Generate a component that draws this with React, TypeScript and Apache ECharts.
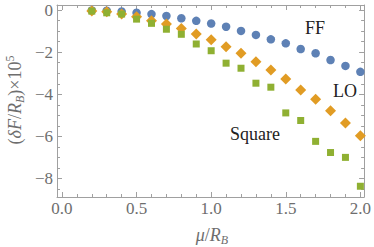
import React, { useEffect, useRef } from "react";
import * as echarts from "echarts";

const xValues = [0.2, 0.3, 0.4, 0.5, 0.6, 0.7, 0.8, 0.9, 1.0, 1.1, 1.2, 1.3, 1.4, 1.5, 1.6, 1.7, 1.8, 1.9, 2.0];
const ffValues = [-0.02, -0.03, -0.07, -0.13, -0.19, -0.28, -0.39, -0.51, -0.64, -0.79, -0.99, -1.18, -1.39, -1.58, -1.85, -2.05, -2.37, -2.65, -2.93];
const loValues = [-0.04, -0.08, -0.19, -0.32, -0.51, -0.66, -0.87, -1.14, -1.41, -1.74, -2.05, -2.45, -2.84, -3.27, -3.79, -4.23, -4.78, -5.36, -5.96];
const squareValues = [-0.05, -0.13, -0.19, -0.43, -0.63, -0.91, -1.15, -1.61, -1.93, -2.52, -2.76, -3.47, -3.66, -4.88, -5.24, -6.23, -6.76, -6.99, -8.36];

const xMajorTicks = [0, 0.5, 1.0, 1.5, 2.0];
const xMinorTicks = [0.1, 0.2, 0.3, 0.4, 0.6, 0.7, 0.8, 0.9, 1.1, 1.2, 1.3, 1.4, 1.6, 1.7, 1.8, 1.9];
const yMajorTicks = [0, -2, -4, -6, -8];
const yMinorTicks = [-0.5, -1, -1.5, -2.5, -3, -3.5, -4.5, -5, -5.5, -6.5, -7, -7.5, -8.5];

const seriesNames = ["FF", "LO", "Square"];
const colors = ["#5E81B5", "#E19C24", "#8FB032"];

const X_MIN = -0.0333;
const X_MAX = 2.025;
const Y_MIN = -8.87;
const Y_MAX = 0.24;

const FRAME = "#a0a0a0";
const LABEL = "#6e6e6e";
const SERIF = "'Liberation Serif', 'DejaVu Serif', serif";

function toPairs(vals: number[]) {
  return xValues.map((x, i) => [x, vals[i]]);
}

export default function App() {
  const ref = useRef<HTMLDivElement>(null);
  useEffect(() => {
    if (!ref.current) return;
    const chart = echarts.init(ref.current, null, { renderer: "svg" });
    const baseX = (pos: "bottom" | "top", ticks: number[], len: number, labels: boolean, line: boolean) => ({
      type: "value",
      position: pos,
      min: X_MIN,
      max: X_MAX,
      axisLine: { show: line, onZero: false, lineStyle: { color: FRAME, width: 1 } },
      axisTick: { show: true, inside: true, length: len, customValues: ticks, lineStyle: { color: FRAME } },
      axisLabel: labels
        ? {
            show: true,
            customValues: ticks,
            margin: 3,
            color: LABEL,
            fontFamily: SERIF,
            fontSize: 17,
            formatter: (v: number) => v.toFixed(1),
          }
        : { show: false },
      splitLine: { show: false },
    });
    const baseY = (pos: "left" | "right", ticks: number[], len: number, labels: boolean, line: boolean) => ({
      type: "value",
      position: pos,
      min: Y_MIN,
      max: Y_MAX,
      axisLine: { show: line, onZero: false, lineStyle: { color: FRAME, width: 1 } },
      axisTick: { show: true, inside: true, length: len, customValues: ticks, lineStyle: { color: FRAME } },
      axisLabel: labels
        ? {
            show: true,
            customValues: ticks,
            margin: 4,
            color: LABEL,
            fontFamily: SERIF,
            fontSize: 17,
            formatter: (v: number) => (v === 0 ? "0" : "\u2212" + Math.abs(Math.round(v))),
          }
        : { show: false },
      splitLine: { show: false },
    });
    const symbols = ["circle", "diamond", "rect"];
    const sizes = [8.5, 11, 7];
    const data = [ffValues, loValues, squareValues];
    chart.setOption({
      animation: false,
      grid: { left: 57, right: 8, top: 5, bottom: 50, containLabel: false },
      xAxis: [
        baseX("bottom", xMajorTicks, 5, true, true),
        baseX("bottom", xMinorTicks, 3, false, false),
        baseX("top", xMajorTicks, 5, false, true),
        baseX("top", xMinorTicks, 3, false, false),
      ],
      yAxis: [
        baseY("left", yMajorTicks, 5, true, true),
        baseY("left", yMinorTicks, 3, false, false),
        baseY("right", yMajorTicks, 5, false, true),
        baseY("right", yMinorTicks, 3, false, false),
      ],
      series: seriesNames.map((name, i) => ({
        name,
        type: "scatter",
        xAxisIndex: 0,
        yAxisIndex: 0,
        symbol: symbols[i],
        symbolSize: sizes[i],
        itemStyle: { color: colors[i], opacity: 1 },
        data: toPairs(data[i]),
        z: 2 + i,
      })),
      graphic: [
        {
          type: "text",
          left: 305,
          top: 19,
          style: { text: "FF", fontFamily: SERIF, fontSize: 18, fill: "#222" },
        },
        {
          type: "text",
          left: 333,
          top: 82,
          style: { text: "LO", fontFamily: SERIF, fontSize: 18, fill: "#222" },
        },
        {
          type: "text",
          left: 230,
          top: 125,
          style: { text: "Square", fontFamily: SERIF, fontSize: 18, fill: "#222" },
        },
        {
          type: "text",
          x: 212,
          y: 235,
          style: {
            text: "{i|\u03bc}{n|/}{i|R}{sub|B}",
            align: "center",
            verticalAlign: "middle",
            fill: LABEL,
            rich: {
              i: { fontFamily: SERIF, fontSize: 18, fontStyle: "italic", lineHeight: 20, fill: LABEL, color: LABEL },
              n: { fontFamily: SERIF, fontSize: 18, lineHeight: 20, fill: LABEL, color: LABEL },
              sub: { fontFamily: SERIF, fontSize: 12, fontStyle: "italic", lineHeight: 12, padding: [10, 0, 0, 0], fill: LABEL, color: LABEL },
            },
          },
        },
        {
          type: "text",
          x: 15,
          y: 100,
          rotation: Math.PI / 2,
          style: {
            text: "{n|(}{i|\u03b4F}{n|/}{i|R}{sub|B}{n|)\u00d710}{sup|5}",
            align: "center",
            verticalAlign: "middle",
            fill: LABEL,
            rich: {
              i: { fontFamily: SERIF, fontSize: 18, fontStyle: "italic", lineHeight: 20, fill: LABEL, color: LABEL },
              n: { fontFamily: SERIF, fontSize: 18, lineHeight: 20, fill: LABEL, color: LABEL },
              sub: { fontFamily: SERIF, fontSize: 12, fontStyle: "italic", lineHeight: 12, padding: [10, 0, 0, 0], fill: LABEL, color: LABEL },
              sup: { fontFamily: SERIF, fontSize: 12, lineHeight: 12, padding: [0, 0, 10, 0], fill: LABEL, color: LABEL },
            },
          },
        },
      ],
    });
    return () => chart.dispose();
  }, []);
  return <div ref={ref} style={{ width: 374, height: 247, position: "absolute", left: 0, top: 0 }} />;
}
